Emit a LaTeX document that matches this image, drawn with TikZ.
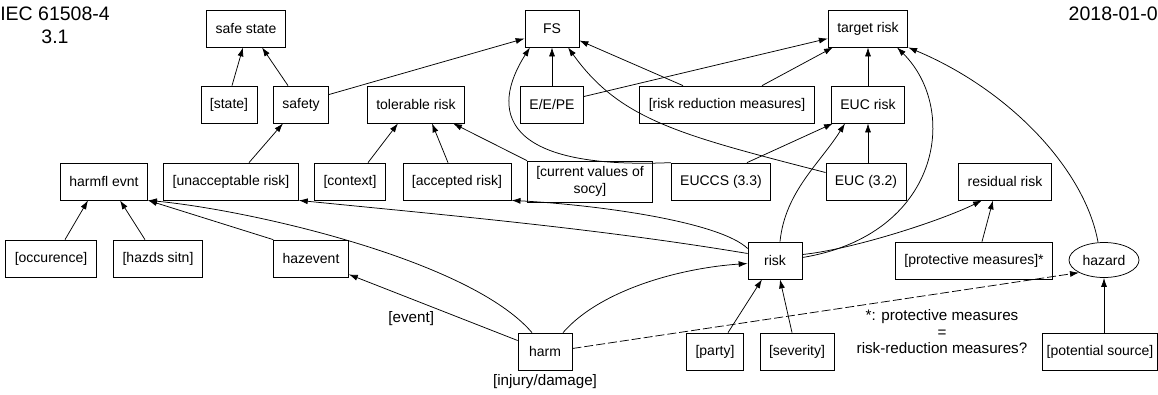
\documentclass[tikz,border=0pt]{standalone}
\usepackage{fontspec}
\setmainfont{Liberation Sans}
\usetikzlibrary{arrows.meta,shapes.geometric}

\begin{document}
\begin{tikzpicture}[x=1pt, y=-1pt, >={Latex[length=9pt,width=6pt]}, line width=.75pt,
	font=\fontsize{14}{16.5}\selectfont,
	box/.style={draw, minimum height=37pt, minimum width=54pt, inner xsep=9pt},
	lbl/.style={font=\fontsize{15.2}{16.5}\selectfont},
	head/.style={font=\fontsize{19.5}{23}\selectfont, inner sep=0pt}]
	\useasboundingbox (0,0) rectangle (1158,394);
	\node[head, align=center] (iec) at (55,25.5) {IEC 61508-4\\3.1};
	\node[head, anchor=east] (date) at (1158,14) {2018-01-0};

	\node[box] (safe) at (246,28.5) {safe state};
	\node[box] (fs) at (552,28.5) {FS};
	\node[box] (target) at (868,28.5) {target risk};
	\node[box] (state) at (229,104.5) {[state]};
	\node[box] (safety) at (301,104.5) {safety};
	\node[box] (tol) at (416,104.5) {tolerable risk};
	\node[box] (eepe) at (552,104.5) {E/E/PE};
	\node[box] (rrm) at (727,104.5) {[risk reduction measures]};
	\node[box] (eucrisk) at (868,104.5) {EUC risk};
	\node[box] (harmfl) at (104,181.5) {harmfl evnt};
	\node[box] (unacc) at (231,181.5) {[unacceptable risk]};
	\node[box] (context) at (350,181.5) {[context]};
	\node[box] (accepted) at (457,181.5) {[accepted risk]};
	\node[box, align=center, minimum height=41pt] (socy) at (590,181.5) {[current values of\\socy]};
	\node[box] (euccs) at (721,181.5) {EUCCS (3.3)};
	\node[box] (euc) at (866,181.5) {EUC (3.2)};
	\node[box] (resid) at (1005,181.5) {residual risk};
	\node[box] (occ) at (51,258.5) {[occurence]};
	\node[box] (sitn) at (158,258.5) {[hazds sitn]};
	\node[box] (hazevent) at (311,258.5) {hazevent};
	\node[box] (risk) at (775,260.5) {risk};
	\node[box] (protect) at (974,260.5) {[protective measures]*};
	\node[draw, ellipse, minimum width=70pt, minimum height=35pt, inner sep=0pt] (hazard) at (1104,260) {hazard};
	\node[box] (harm) at (545,351.5) {harm};
	\node[box] (party) at (715,351.5) {[party]};
	\node[box] (severity) at (797,351.5) {[severity]};
	\node[box, inner xsep=4pt] (source) at (1100,351.5) {[potential source]};
	\node[lbl] (injury) at (545,382) {[injury/damage]};
	\node[lbl, align=center] (note) at (942,332) {*: protective measures\\=\\risk-reduction measures?};

	\draw[->] ([xshift=3pt]state.north) -- ([xshift=-3pt]safe.south);
	\draw[->] ([xshift=-13pt]safety.north) -- ([xshift=16pt]safe.south);
	\draw[->] ([yshift=10pt]safety.east) -- ([yshift=-10pt]fs.west);
	\draw[->] ([xshift=18pt]unacc.north) -- ([xshift=-18pt]safety.south);
	\draw[->] ([xshift=18pt]context.north) -- ([xshift=-18pt]tol.south);
	\draw[->] ([xshift=-9pt]accepted.north) -- ([xshift=16pt]tol.south);
	\draw[->] (socy.north west) -- ([xshift=37pt]tol.south);
	\draw[->] (eepe) -- (fs);
	\draw[->] ([yshift=8pt]eepe.east) -- ([yshift=-10pt]target.west);
	\draw[->] ([xshift=-44pt]rrm.north) -- ([yshift=-12pt]fs.east);
	\draw[->] ([xshift=35pt]rrm.north) -- ([xshift=-35pt]target.south);
	\draw[->] (euccs.north west) .. controls (500,170) and (490,110) .. ([xshift=-22pt]fs.south);
	\draw[->] ([yshift=9pt]euc.west) .. controls (680,135) and (620,120) .. ([xshift=16pt]fs.south);
	\draw[->] ([xshift=26pt]euccs.north) -- ([xshift=-35pt]eucrisk.south);
	\draw[->] (euc.north -| eucrisk.south) -- (eucrisk.south);
	\draw[->] (eucrisk) -- (target);
	\draw[->] ([xshift=5pt]risk.north) .. controls +(5,-50) and +(-25,40) .. ([xshift=-23pt]eucrisk.south);
	\draw[->] ([yshift=3pt]risk.east) .. controls (940,235) and (960,110) .. ([xshift=29pt]target.south);
	\draw[->] ([yshift=6pt]risk.east) .. controls +(50,-5) and +(-40,20) .. ([xshift=-23pt]resid.south);
	\draw[->] ([xshift=8pt]protect.north) -- ([xshift=-12pt]resid.south);
	\draw[->] ([xshift=-6pt]hazard.north) .. controls (1085,170) and (1010,90) .. (target.south east);
	\draw[->] ([yshift=7pt]risk.west) .. controls +(-150,-25) and +(150,15) .. (unacc.south east);
	\draw[->] ([yshift=12pt]risk.west) .. controls (720,222) and (600,205) .. (accepted.south east);
	\draw[->] (hazevent.north west) -- (harmfl.south east);
	\draw[->] ([xshift=-13pt]harm.north) .. controls (470,260) and (250,210) .. (harmfl.south east);
	\draw[->] ([yshift=11pt]harm.west) -- node[lbl, pos=.63, below=9pt] (event) {[event]} ([yshift=3pt]hazevent.south east);
	\draw[->] ([xshift=18pt]harm.north) .. controls (600,290) and (680,268) .. ([yshift=-3pt]risk.west);
	\draw[->] ([xshift=13pt]party.north) -- ([xshift=-13pt]risk.south);
	\draw[->] ([xshift=-5pt]severity.north) -- ([xshift=5pt]risk.south);
	\draw[->, dash pattern=on 9pt off 3pt] ([yshift=3pt]harm.east) -- (hazard.south west);
	\draw[->] (source.north -| hazard.south) -- (hazard.south);
	\draw[->] ([xshift=14pt]occ.north) -- ([xshift=-16pt]harmfl.south);
	\draw[->] ([xshift=-13pt]sitn.north) -- ([xshift=16pt]harmfl.south);
\end{tikzpicture}
\end{document}
